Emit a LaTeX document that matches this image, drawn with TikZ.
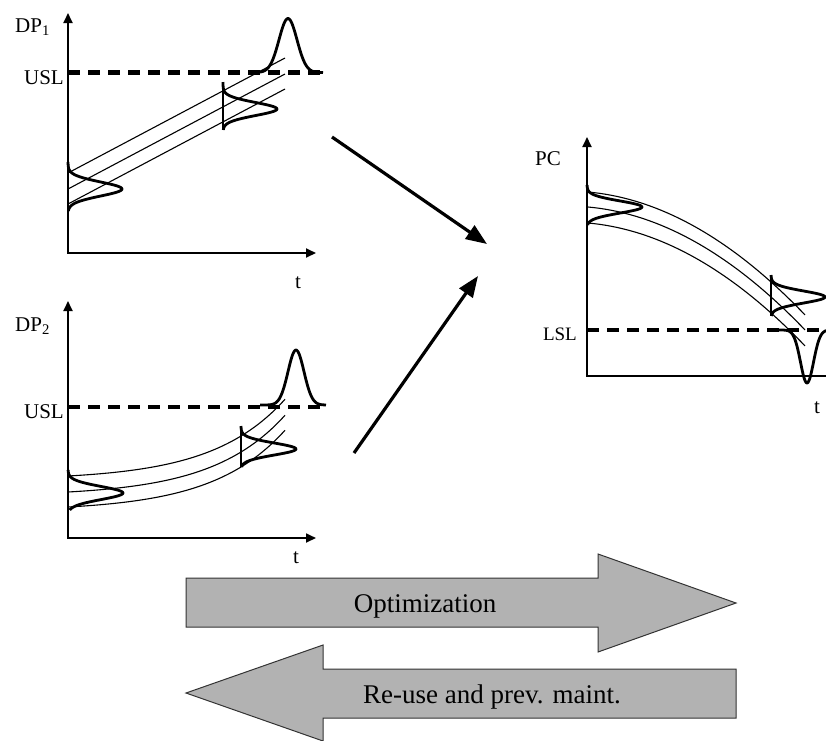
\documentclass[tikz,border=0pt]{standalone}
\usepackage{fontspec}
\setmainfont{Liberation Serif}
\usetikzlibrary{arrows.meta}

\begin{document}
\begin{tikzpicture}[
  x=1pt,y=-1pt,
  >={Triangle[length=10pt,width=9pt]},
  declare function={gs(\d)=exp(-0.5*(\d)*(\d));},
  axis/.style={<->,line width=1.8pt},
  band/.style={line width=1.1pt},
  gauss/.style={line width=2.8pt,line join=round},
  bar/.style={line width=2.8pt},
  limit/.style={line width=4.5pt,dash pattern=on 12pt off 8pt},
  lab/.style={font=\fontsize{21}{21}\selectfont,inner sep=0pt},
  flow/.style={-{Triangle[length=21pt,width=16pt]},line width=3.2pt},
  block arrow/.style={draw=black!80,fill=gray!60,line width=1pt},
  block text/.style={font=\fontsize{27}{27}\selectfont,inner sep=0pt}]

  \useasboundingbox (0,0) rectangle (826,740);

  % DP1: linear drift
  \draw[axis] (68,13) -- (68,253) -- (316,253);
  \draw[band] (68,173) -- (285,58);
  \draw[band] (68,189) -- (285,74);
  \draw[band] (68,204) -- (285,89);
  \draw[limit] (68,72.5) -- (323,72.5);
  \draw[bar] (68,162) -- (68,211);
  \draw[bar] (223,82) -- (223,130);
  \draw[gauss] plot[domain=162:211,samples=60,variable=\t] ({68+54*gs((\t-189)/7)},\t);
  \draw[gauss] plot[domain=82:130,samples=60,variable=\t] ({223+54*gs((\t-109)/6.5)},\t);
  \draw[gauss] plot[domain=253:323,samples=80,variable=\t] (\t,{72.5-54*gs((\t-288)/9)});
  \node[lab,anchor=base west] (dp1) at (15,32) {DP\textsubscript{1}};
  \node[lab,anchor=base east] (usl1) at (64,84) {USL};
  \node[lab,anchor=base] (t1) at (298,288) {t};

  % DP2: accelerating drift
  \draw[axis] (68,301) -- (68,538) -- (316,538);
  \draw[band] plot[domain=68:285,samples=50,variable=\t] (\t,{476-4.05*(exp(0.0138*(\t-68))-1)});
  \draw[band] plot[domain=68:285,samples=50,variable=\t] (\t,{492-4.05*(exp(0.0138*(\t-68))-1)});
  \draw[band] plot[domain=68:285,samples=50,variable=\t] (\t,{507-4.05*(exp(0.0138*(\t-68))-1)});
  \draw[limit] (68,407) -- (326,407);
  \draw[bar] (68,470) -- (68,510);
  \draw[bar] (241,426) -- (241,467);
  \draw[gauss] plot[domain=470:510,samples=60,variable=\t] ({68+55*gs((\t-493)/6.5)},\t);
  \draw[gauss] plot[domain=426:467,samples=60,variable=\t] ({241+55*gs((\t-449)/6)},\t);
  \draw[gauss] plot[domain=260:326,samples=80,variable=\t] (\t,{405-55*gs((\t-296)/8)});
  \node[lab,anchor=base west] (dp2) at (15,331) {DP\textsubscript{2}};
  \node[lab,anchor=base east] (usl2) at (64,418) {USL};
  \node[lab,anchor=base] (t2) at (296,563) {t};

  % PC: falling characteristic
  \draw[axis] (587,137) -- (587,376) -- (838,376);
  \draw[band] plot[domain=588:805,samples=50,variable=\t] (\t,{192+22*pow((\t-588)/100,2)+8.9*(\t-588)/100});
  \draw[band] plot[domain=588:805,samples=50,variable=\t] (\t,{207+22*pow((\t-588)/100,2)+8.9*(\t-588)/100});
  \draw[band] plot[domain=588:805,samples=50,variable=\t] (\t,{223+22*pow((\t-588)/100,2)+8.9*(\t-588)/100});
  \draw[limit] (587,330) -- (826,330);
  \draw[bar] (587,185) -- (587,225);
  \draw[bar] (771,275) -- (771,316);
  \draw[gauss] plot[domain=185:225,samples=60,variable=\t] ({587+55*gs((\t-207)/6)},\t);
  \draw[gauss] plot[domain=275:316,samples=60,variable=\t] ({771+54*gs((\t-297)/6)},\t);
  \draw[gauss] plot[domain=773:830,samples=80,variable=\t] (\t,{330+53*gs((\t-807)/6.5)});
  \node[lab,anchor=base west] (pc) at (535,165) {PC};
  \node[lab,anchor=base east,font=\fontsize{19}{19}\selectfont] (lsl) at (577,340) {LSL};
  \node[lab,anchor=base] (t3) at (817,413) {t};

  % combining arrows
  \coordinate (dp1 out) at (332,137);
  \coordinate (dp2 out) at (354,453);
  \coordinate (pc in1) at (487,244);
  \coordinate (pc in2) at (478,276);
  \draw[flow] (dp1 out) -- (pc in1);
  \draw[flow] (dp2 out) -- (pc in2);

  % optimization / re-use
  \draw[block arrow] (186,578) -- (598,578) -- (598,554) -- (736,603)
    -- (598,652) -- (598,627) -- (186,627) -- cycle;
  \node[block text,anchor=base] (opt) at (425,612) {Optimization};
  \draw[block arrow] (736,669) -- (323,669) -- (323,645) -- (186,693)
    -- (323,741) -- (323,718) -- (736,718) -- cycle;
  \node[block text,anchor=base] (reuse) at (492,703) {Re-use and prev. maint.};
\end{tikzpicture}
\end{document}
